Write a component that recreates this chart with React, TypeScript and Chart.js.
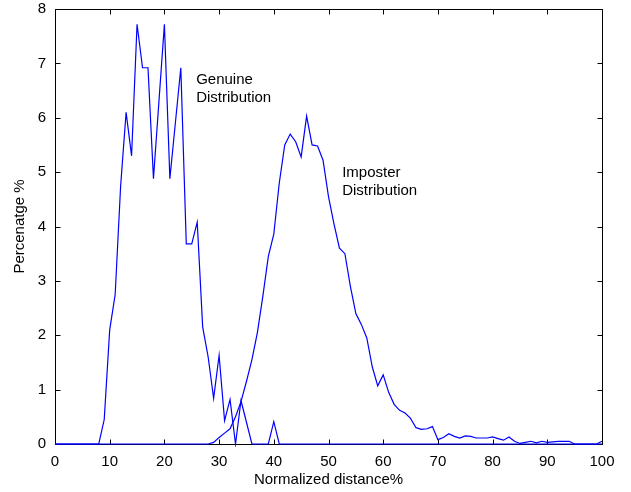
import React, { useEffect, useRef } from "react";
import { Chart, registerables } from "chart.js";

Chart.register(...registerables);

// Normalized distance (%) categories: 0..100 in steps of 1
const distance: number[] = Array.from({ length: 101 }, (_, i) => i);

// Genuine distribution (%) at each distance
const genuine: number[] = [
  0, 0, 0, 0, 0, 0, 0, 0, 0, 0.45,
  2.1, 2.75, 4.75, 6.1, 5.3, 7.72, 6.92, 6.92, 4.88, 6.3,
  7.72, 4.88, 5.9, 6.92, 3.68, 3.68, 4.08, 2.15, 1.6, 0.84,
  1.63, 0.43, 0.82, 0, 0.8, 0.4, 0, 0, 0, 0,
  0.41, 0, 0, 0, 0, 0, 0, 0, 0, 0,
  0, 0, 0, 0, 0, 0, 0, 0, 0, 0,
  0, 0, 0, 0, 0, 0, 0, 0, 0, 0,
  0, 0, 0, 0, 0, 0, 0, 0, 0, 0,
  0, 0, 0, 0, 0, 0, 0, 0, 0, 0,
  0, 0, 0, 0, 0, 0, 0, 0, 0, 0,
  0,
];

// Imposter distribution (%) at each distance
const imposter: number[] = [
  0, 0, 0, 0, 0, 0, 0, 0, 0, 0,
  0, 0, 0, 0, 0, 0, 0, 0, 0, 0,
  0, 0, 0, 0, 0, 0, 0, 0, 0, 0.03,
  0.12, 0.2, 0.28, 0.5, 0.78, 1.15, 1.55, 2.05, 2.72, 3.45,
  3.86, 4.8, 5.5, 5.7, 5.56, 5.28, 6.03, 5.5, 5.48, 5.22,
  4.55, 4.05, 3.6, 3.5, 2.9, 2.4, 2.2, 1.95, 1.42, 1.07,
  1.27, 0.95, 0.73, 0.62, 0.57, 0.47, 0.3, 0.27, 0.28, 0.32,
  0.08, 0.12, 0.19, 0.14, 0.11, 0.15, 0.14, 0.11, 0.11, 0.11,
  0.13, 0.1, 0.07, 0.13, 0.05, 0.01, 0.03, 0.05, 0.02, 0.05,
  0.03, 0.04, 0.05, 0.05, 0.05, 0, 0, 0, 0, 0,
  0.05,
];

const xLabel = "Normalized distance%";
const yLabel = "Percenatge %";

// Text annotations: lines and their anchor (data coordinates, top-left)
const annotations = [
  { lines: ["Genuine", "Distribution"], x: 25.8, y: 6.84 },
  { lines: ["Imposter", "Distribution"], x: 52.5, y: 5.13 },
];

const FONT = "'Liberation Sans', Arial, sans-serif";
const FONT_SIZE = 15;
const TICK_LEN = 5;

const framePlugin = {
  id: "matlabFrame",
  beforeDatasetsDraw(chart: any) {
    const { ctx, chartArea: a, scales } = chart;
    ctx.save();
    ctx.strokeStyle = "#000";
    ctx.lineWidth = 1;
    const l = Math.round(a.left) + 0.5;
    const r = Math.round(a.right) + 0.5;
    const t = Math.round(a.top) + 0.5;
    const b = Math.round(a.bottom) + 0.5;
    ctx.beginPath();
    ctx.rect(l, t, r - l, b - t);
    for (const tk of scales.x.ticks) {
      const px = Math.round(scales.x.getPixelForValue(tk.value)) + 0.5;
      ctx.moveTo(px, b);
      ctx.lineTo(px, b - TICK_LEN);
      ctx.moveTo(px, t);
      ctx.lineTo(px, t + TICK_LEN);
    }
    for (const tk of scales.y.ticks) {
      const py = Math.round(scales.y.getPixelForValue(tk.value)) + 0.5;
      ctx.moveTo(l, py);
      ctx.lineTo(l + TICK_LEN, py);
      ctx.moveTo(r, py);
      ctx.lineTo(r - TICK_LEN, py);
    }
    ctx.stroke();
    ctx.restore();
  },
  afterDraw(chart: any) {
    const { ctx, scales } = chart;
    ctx.save();
    ctx.fillStyle = "#000";
    ctx.font = `${FONT_SIZE}px ${FONT}`;
    ctx.textBaseline = "top";
    ctx.textAlign = "left";
    for (const ann of annotations) {
      const px = scales.x.getPixelForValue(ann.x);
      const py = scales.y.getPixelForValue(ann.y);
      ann.lines.forEach((line, i) => {
        ctx.fillText(line, px, py + i * 18);
      });
    }
    ctx.restore();
  },
};

export default function App() {
  const canvasRef = useRef<HTMLCanvasElement | null>(null);

  useEffect(() => {
    if (!canvasRef.current) return;
    const chart = new Chart(canvasRef.current, {
      type: "line",
      data: {
        datasets: [
          {
            label: "Genuine Distribution",
            data: distance.map((d, i) => ({ x: d, y: genuine[i] })),
            borderColor: "#0000ff",
            borderWidth: 1.2,
            pointRadius: 0,
            tension: 0,
            fill: false,
            clip: 3,
          },
          {
            label: "Imposter Distribution",
            data: distance.map((d, i) => ({ x: d, y: imposter[i] })),
            borderColor: "#0000ff",
            borderWidth: 1.2,
            pointRadius: 0,
            tension: 0,
            fill: false,
            clip: 3,
          },
        ],
      },
      options: {
        animation: false,
        responsive: false,
        layout: { padding: { top: 9, right: 29, left: 0, bottom: 0 } },
        plugins: {
          legend: { display: false },
          tooltip: { enabled: false },
        },
        scales: {
          x: {
            type: "linear",
            min: 0,
            max: 100,
            grid: { display: false, drawTicks: false },
            border: { display: false },
            ticks: {
              stepSize: 10,
              color: "#000",
              font: { family: FONT, size: FONT_SIZE },
              padding: 9,
              maxRotation: 0,
            },
            title: {
              display: true,
              text: xLabel,
              color: "#000",
              font: { family: FONT, size: FONT_SIZE },
              padding: { top: 0, bottom: 3 },
            },
            afterFit(scale: any) {
              scale.height = 48;
              scale.paddingLeft = 0;
              scale.paddingRight = 0;
            },
          },
          y: {
            type: "linear",
            min: 0,
            max: 8,
            grid: { display: false, drawTicks: false },
            border: { display: false },
            ticks: {
              stepSize: 1,
              color: "#000",
              font: { family: FONT, size: FONT_SIZE },
              padding: 9,
            },
            title: {
              display: true,
              text: yLabel,
              color: "#000",
              font: { family: FONT, size: FONT_SIZE },
              padding: { top: 11, bottom: 0 },
            },
            afterFit(scale: any) {
              scale.width = 55;
              scale.paddingTop = 0;
              scale.paddingBottom = 0;
            },
          },
        },
      },
      plugins: [framePlugin],
    } as any);
    return () => chart.destroy();
  }, []);

  return (
    <div style={{ position: "absolute", left: 0, top: 0, width: 631, height: 492, background: "#fff" }}>
      <canvas ref={canvasRef} width={631} height={492} />
    </div>
  );
}
